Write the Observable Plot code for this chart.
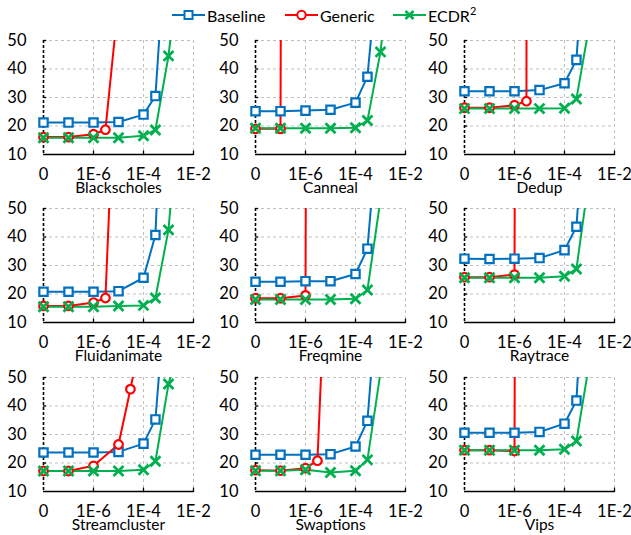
<!DOCTYPE html>
<html>
<head>
<meta charset="utf-8">
<script src="https://cdn.jsdelivr.net/npm/d3@7"></script>
<script src="https://cdn.jsdelivr.net/npm/@observablehq/plot@0.6"></script>
<style>
  html, body { margin: 0; padding: 0; background: #fff; }
  body { width: 631px; height: 535px; position: relative; overflow: hidden; font-family: Lato, "Open Sans", sans-serif; }
  .panel { position: absolute; }
  .panel svg { overflow: visible; background: transparent; }
  .legend-item { position: absolute; top: 4px; height: 22px; display: flex; align-items: center; font-size: 16px; color: #000; }
  .legend-item svg { margin-right: 2px; }
  sup { font-size: 11px; position: relative; top: -1px; }
</style>
</head>
<body>
<div id="root"></div>
<script>
// ---- Data ----
const rates = [0, 1e-7, 1e-6, 3e-6, 1e-5, 3e-5, 1e-4, 3e-4, 1e-3, 3e-3];
const xTickRates = [0, 1e-6, 1e-4, 1e-2];
const xTickLabels = ["0", "1E-6", "1E-4", "1E-2"];
const yTicks = [10, 20, 30, 40, 50];
const seriesNames = ["Baseline", "Generic", "ECDR²"];
const seriesColors = ["#0070C0", "#FF0000", "#00B050"];
const seriesSymbols = ["square", "circle", "times"];
const benchmarks = ["Blackscholes", "Canneal", "Dedup", "Fluidanimate", "Freqmine", "Raytrace", "Streamcluster", "Swaptions", "Vips"];

const baseline = [
  [21.2, 21.2, 21.2, null, 21.4, null, 24.0, 30.5, 100, null],
  [25.2, 25.2, 25.4, null, 25.7, null, 28.2, 37.3, 86, null],
  [32.2, 32.2, 32.2, null, 32.6, null, 35.0, 43.2, 111, null],
  [20.8, 20.8, 20.8, null, 21.0, null, 25.7, 40.7, 150, null],
  [24.3, 24.3, 24.5, null, 24.5, null, 27.0, 35.9, 90, null],
  [32.4, 32.3, 32.4, null, 32.6, null, 35.4, 43.6, 108, null],
  [23.7, 23.7, 23.7, null, 23.9, null, 26.8, 35.3, 92, null],
  [22.9, 22.9, 22.9, null, 23.1, null, 25.8, 34.8, 93, null],
  [30.6, 30.6, 30.6, null, 30.9, null, 33.8, 41.9, 123, null]
];
const generic = [
  [16.1, 16.1, 17.1, 18.7, 64, null, null, null, null, null],
  [19.0, 19.0, 3000, null, null, null, null, null, null, null],
  [26.4, 26.4, 27.3, 28.7, 3000, null, null, null, null, null],
  [15.8, 15.8, 17.0, 18.6, 128, null, null, null, null, null],
  [18.5, 18.5, 19.5, null, 3000, null, null, null, null, null],
  [25.9, 25.9, 26.8, null, 3000, null, null, null, null, null],
  [17.2, 17.2, 19.0, null, 26.5, 45.9, 69, null, null, null],
  [17.5, 17.3, 18.2, 20.8, 129, null, null, null, null, null],
  [24.5, 24.5, 24.2, null, 3000, null, null, null, null, null]
];
const ecdr = [
  [15.9, 15.9, 15.9, null, 15.9, null, 16.6, 18.6, 44.6, 81],
  [19.2, 19.2, 19.2, null, 19.2, null, 19.4, 21.9, 46.0, 84],
  [26.1, 26.1, 26.1, null, 26.1, null, 26.2, 29.5, 55.7, null],
  [15.5, 15.5, 15.5, null, 15.8, null, 16.0, 18.6, 42.5, 93],
  [18.1, 18.1, 18.1, null, 18.1, null, 18.3, 21.4, 53.2, null],
  [25.7, 25.7, 25.7, null, 25.7, null, 26.2, 28.8, 62, null],
  [17.2, 17.2, 17.2, null, 17.2, null, 17.6, 20.6, 47.7, 63],
  [17.3, 17.3, 17.6, null, 16.7, null, 17.3, 21.1, 51.8, null],
  [24.5, 24.5, 24.5, null, 24.5, null, 24.8, 27.7, 55.6, null]
];
const allSeries = [baseline, generic, ecdr];

// ---- Layout ----
const colLeft = [0, 212, 421];
const rowFrameTop = [40, 208, 377];
const pos = r => (r === 0 ? 0 : Math.log10(r) + 8);

const root = document.getElementById("root");

// Legend
const legendLeft = [172, 285, 393];
seriesNames.forEach((name, i) => {
  const item = document.createElement("div");
  item.className = "legend-item";
  item.style.left = legendLeft[i] + "px";
  const c = seriesColors[i];
  let marker = "";
  if (i === 0) marker = `<rect x="12.5" y="7" width="8" height="8" fill="#fff" stroke="${c}" stroke-width="2"/>`;
  if (i === 1) marker = `<circle cx="16.5" cy="11" r="4.2" fill="#fff" stroke="${c}" stroke-width="2"/>`;
  if (i === 2) marker = `<path d="M12.5,7L20.5,15M20.5,7L12.5,15" stroke="${c}" stroke-width="2.6"/>`;
  item.innerHTML = `<svg width="33" height="22"><line x1="0" x2="33" y1="11" y2="11" stroke="${c}" stroke-width="2"/>${marker}</svg>` +
    (i === 2 ? `<span>ECDR<sup>2</sup></span>` : `<span>${name}</span>`);
  root.appendChild(item);
});

benchmarks.forEach((bench, b) => {
  const row = Math.floor(b / 3), col = b % 3;
  const data = [];
  allSeries.forEach((arr, s) => {
    rates.forEach((r, i) => {
      const v = arr[b][i];
      if (v != null) data.push({series: seriesNames[s], s, x: pos(r), v});
    });
  });
  const lineMarks = [0, 1, 2].map(s =>
    Plot.line(data.filter(d => d.s === s), {x: "x", y: "v", stroke: seriesColors[s], strokeWidth: 2, clip: true})
  );
  const dotMarks = [0, 1, 2].map(s =>
    Plot.dot(data.filter(d => d.s === s && d.v >= 10 && d.v <= 50), {
      x: "x", y: "v", symbol: () => seriesSymbols[s],
      r: s === 2 ? 4.6 : (s === 0 ? 4.7 : 4.3),
      stroke: seriesColors[s], fill: s === 2 ? "none" : "#fff",
      strokeWidth: s === 2 ? 2.8 : 2.2
    })
  );
  const chart = Plot.plot({
    width: 210,
    height: 170,
    marginLeft: 43,
    marginRight: 17,
    marginTop: 10,
    marginBottom: 46,
    style: {fontFamily: "Lato, 'Open Sans', sans-serif", fontSize: "16.5px", color: "#000", background: "transparent", overflow: "visible"},
    x: {domain: [0, 6], ticks: xTickRates.map(pos), tickFormat: (d, i) => xTickLabels[i], tickSize: 0, tickPadding: 14, label: null},
    y: {domain: [10, 50], ticks: yTicks, tickSize: 0, tickPadding: 17, label: null},
    marks: [
      Plot.ruleY(yTicks.filter(t => t > 10), {stroke: "#bfbfbf", strokeWidth: 1, strokeDasharray: "3,3"}),
      Plot.ruleX(xTickRates.filter(r => r > 0).map(pos), {stroke: "#bfbfbf", strokeWidth: 1, strokeDasharray: "3,3"}),
      Plot.ruleX([0], {stroke: "#000", strokeWidth: 1.6, strokeDasharray: "3,2"}),
      Plot.ruleY([10], {stroke: "#000", strokeWidth: 1.6}),
      Plot.ruleX(xTickRates.filter(r => r > 0).map(pos), {y1: 9.6, y2: 11.2, stroke: "#000", strokeWidth: 1.3}),
      Plot.ruleY(yTicks.filter(t => t > 10), {x1: 0, x2: 0.13, stroke: "#000", strokeWidth: 1.3}),
      ...lineMarks,
      ...dotMarks,
      Plot.text([bench], {frameAnchor: "bottom", dy: 27, lineAnchor: "top", fontSize: 15.5, fill: "#000", text: d => d})
    ]
  });
  const wrap = document.createElement("div");
  wrap.className = "panel";
  wrap.style.left = colLeft[col] + "px";
  wrap.style.top = (rowFrameTop[row] - 10) + "px";
  wrap.appendChild(chart);
  root.appendChild(wrap);
});
</script>
</body>
</html>
